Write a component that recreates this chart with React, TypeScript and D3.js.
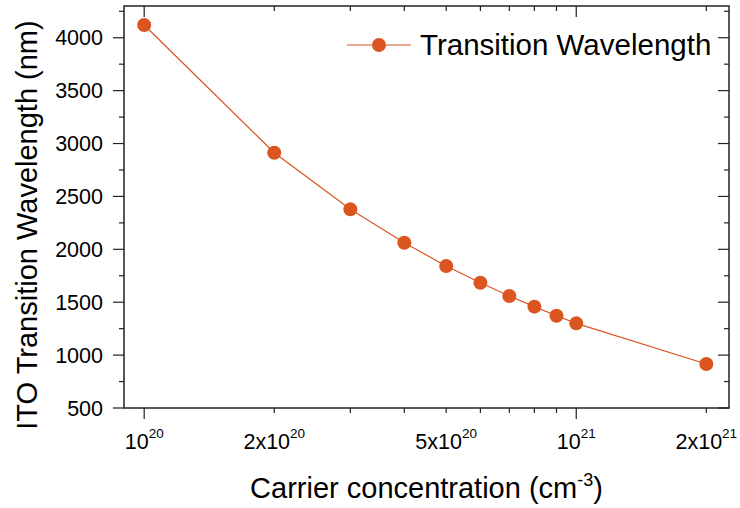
import React from 'react';
import * as d3 from 'd3';

// carrier concentration (cm^-3) and transition wavelength (nm)
const concentrations = [1e20, 2e20, 3e20, 4e20, 5e20, 6e20, 7e20, 8e20, 9e20, 1e21, 2e21];
const wavelengths = [4120, 2913, 2378, 2062, 1842, 1684, 1559, 1458, 1372, 1300, 916];

const xLabelled = [
  { v: 1e20, m: '', e: '20' },
  { v: 2e20, m: '2x', e: '20' },
  { v: 5e20, m: '5x', e: '20' },
  { v: 1e21, m: '', e: '21' },
  { v: 2e21, m: '2x', e: '21' },
];
const xTickValues = [1e20, 2e20, 3e20, 4e20, 5e20, 6e20, 7e20, 8e20, 9e20, 1e21, 2e21];
const yMajorTicks = [500, 1000, 1500, 2000, 2500, 3000, 3500, 4000];
const yMinorTicks = [750, 1250, 1750, 2250, 2750, 3250, 3750, 4250];

const seriesName = 'Transition Wavelength';
const color = '#DA5520';
const font = '"Liberation Sans", Arial, sans-serif';

const App = () => {
  const width = 740;
  const height = 508;
  const margin = { top: 6, right: 11, bottom: 100, left: 124 };
  const x0 = margin.left;
  const x1 = width - margin.right;
  const y0 = margin.top;
  const y1 = height - margin.bottom;

  const x = d3.scaleLog().domain([0.898e20, 2.257e21]).range([x0, x1]);
  const y = d3.scaleLinear().domain([500, 4300]).range([y1, y0]);

  const pts = concentrations.map((c, i) => [c, wavelengths[i]] as [number, number]);
  const line = d3.line<[number, number]>().x(d => x(d[0])).y(d => y(d[1]));

  const isDecade = (v: number) => Math.abs(Math.log10(v) - Math.round(Math.log10(v))) < 1e-9;
  const axisColor = '#222';

  return (
    <svg width={width} height={height} style={{ position: 'absolute', left: 0, top: 0, background: '#fff' }}
      fontFamily={font}>
      <rect x={0} y={0} width={width} height={height} fill="#fff" />

      {/* x ticks: bottom outward, top inward */}
      {xTickValues.map(v => {
        const len = isDecade(v) ? 11 : 5;
        return (
          <g key={'xt' + v} stroke={axisColor} strokeWidth={1.2}>
            <line x1={x(v)} x2={x(v)} y1={y1} y2={y1 + len} />
            <line x1={x(v)} x2={x(v)} y1={y0} y2={y0 + len} />
          </g>
        );
      })}

      {/* y ticks: left outward, right inward */}
      {yMajorTicks.map(v => (
        <g key={'yt' + v} stroke={axisColor} strokeWidth={1.2}>
          <line x1={x0 - 11} x2={x0} y1={y(v)} y2={y(v)} />
          <line x1={x1 - 11} x2={x1} y1={y(v)} y2={y(v)} />
        </g>
      ))}
      {yMinorTicks.map(v => (
        <g key={'ym' + v} stroke={axisColor} strokeWidth={1.2}>
          <line x1={x0 - 5} x2={x0} y1={y(v)} y2={y(v)} />
          <line x1={x1 - 5} x2={x1} y1={y(v)} y2={y(v)} />
        </g>
      ))}

      <rect x={x0} y={y0} width={x1 - x0} height={y1 - y0} fill="none" stroke={axisColor} strokeWidth={1.5} />

      {/* y tick labels */}
      {yMajorTicks.map(v => (
        <text key={'yl' + v} x={x0 - 21} y={y(v)} dy="0.36em" textAnchor="end" fontSize={21.5} fill="#000">
          {v}
        </text>
      ))}

      {/* x tick labels */}
      {xLabelled.map(t => (
        <text key={'xl' + t.v} x={x(t.v)} y={449} textAnchor="middle" fontSize={21.5} fill="#000">
          <tspan>{t.m + '10'}</tspan>
          <tspan fontSize={13.5} dy={-11}>{t.e}</tspan>
        </text>
      ))}

      {/* axis titles */}
      <text x={(x0 + x1) / 2} y={498} textAnchor="middle" fontSize={29} fill="#000">
        <tspan>Carrier concentration (cm</tspan>
        <tspan fontSize={18} dy={-12}>-3</tspan>
        <tspan dy={12}>)</tspan>
      </text>
      <text transform={`translate(37, ${(y0 + y1) / 2 + 18}) rotate(-90)`} textAnchor="middle" fontSize={29} fill="#000">
        ITO Transition Wavelength (nm)
      </text>

      {/* series */}
      <path d={line(pts) || ''} fill="none" stroke={color} strokeWidth={1.2} />
      {pts.map(p => (
        <circle key={'p' + p[0]} cx={x(p[0])} cy={y(p[1])} r={7} fill={color} />
      ))}

      {/* legend */}
      <line x1={347} x2={411} y1={45} y2={45} stroke={color} strokeWidth={1.2} />
      <circle cx={379} cy={45} r={7} fill={color} />
      <text x={420} y={55} fontSize={29.5} fill="#000">{seriesName}</text>
    </svg>
  );
};

export default App;
